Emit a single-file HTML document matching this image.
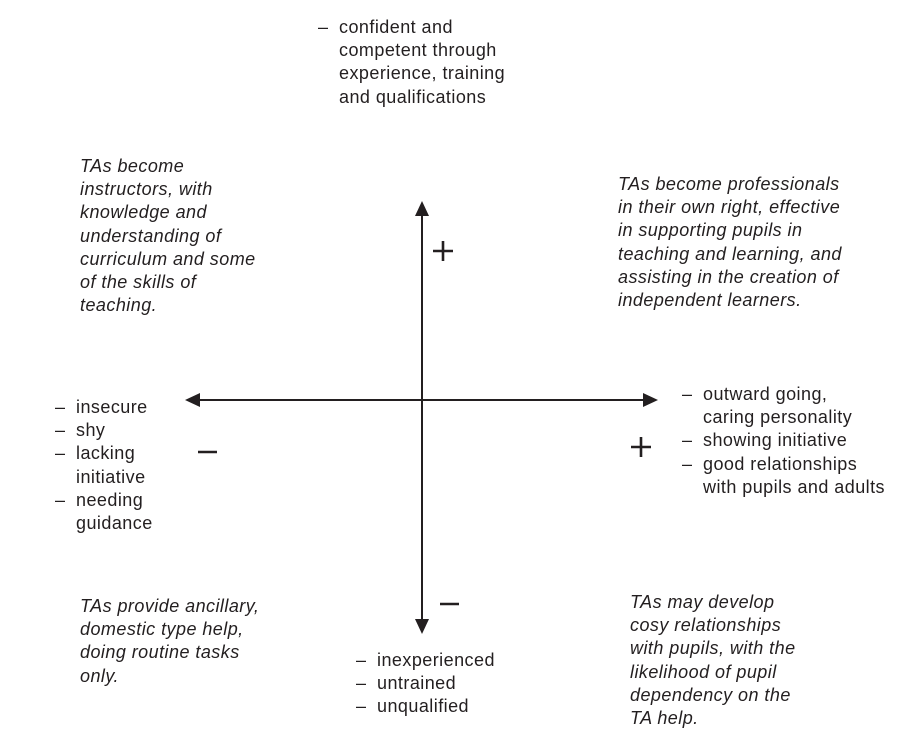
<!DOCTYPE html>
<html><head><meta charset="utf-8"><style>
body{margin:0;width:900px;height:734px;background:#fff;position:relative;overflow:hidden;font-family:"Liberation Sans",Arial,sans-serif;color:#231f20}
.b{position:absolute;font-size:18px;letter-spacing:0.45px;line-height:23.2px;white-space:nowrap}
.i{font-style:italic}
.l{position:relative;padding-left:21px}
.l span{position:absolute;left:0}
</style></head><body>
<svg width="900" height="734" style="position:absolute;left:0;top:0">
<g stroke="#231f20" stroke-width="2" fill="#231f20">
<line x1="422" y1="214" x2="422" y2="621"/>
<line x1="198" y1="400" x2="645" y2="400"/>
<polygon stroke="none" points="422,201 415,216 429,216"/>
<polygon stroke="none" points="422,634 415,619 429,619"/>
<polygon stroke="none" points="185,400 200,393 200,407"/>
<polygon stroke="none" points="658,400 643,393 643,407"/>
<g stroke-width="2.6">
<line x1="433" y1="251" x2="453" y2="251"/><line x1="443" y1="241" x2="443" y2="261"/>
<line x1="631" y1="447" x2="651" y2="447"/><line x1="641" y1="437" x2="641" y2="457"/>
<line x1="198" y1="452" x2="217" y2="452"/>
<line x1="440" y1="604" x2="459" y2="604"/>
</g></g></svg>
<div class="b" style="left:318px;top:16px">
<div class="l"><span>–</span>confident and</div><div class="l">competent through</div><div class="l">experience, training</div><div class="l">and qualifications</div></div>
<div class="b i" style="left:80px;top:155px">TAs become<br>instructors, with<br>knowledge and<br>understanding of<br>curriculum and some<br>of the skills of<br>teaching.</div>
<div class="b i" style="left:618px;top:173px">TAs become professionals<br>in their own right, effective<br>in supporting pupils in<br>teaching and learning, and<br>assisting in the creation of<br>independent learners.</div>
<div class="b" style="left:55px;top:396px">
<div class="l"><span>–</span>insecure</div><div class="l"><span>–</span>shy</div><div class="l"><span>–</span>lacking</div><div class="l">initiative</div><div class="l"><span>–</span>needing</div><div class="l">guidance</div></div>
<div class="b" style="left:682px;top:383px">
<div class="l"><span>–</span>outward going,</div><div class="l">caring personality</div><div class="l"><span>–</span>showing initiative</div><div class="l"><span>–</span>good relationships</div><div class="l">with pupils and adults</div></div>
<div class="b i" style="left:80px;top:595px">TAs provide ancillary,<br>domestic type help,<br>doing routine tasks<br>only.</div>
<div class="b" style="left:356px;top:649px">
<div class="l"><span>–</span>inexperienced</div><div class="l"><span>–</span>untrained</div><div class="l"><span>–</span>unqualified</div></div>
<div class="b i" style="left:630px;top:591px">TAs may develop<br>cosy relationships<br>with pupils, with the<br>likelihood of pupil<br>dependency on the<br>TA help.</div>
</body></html>
